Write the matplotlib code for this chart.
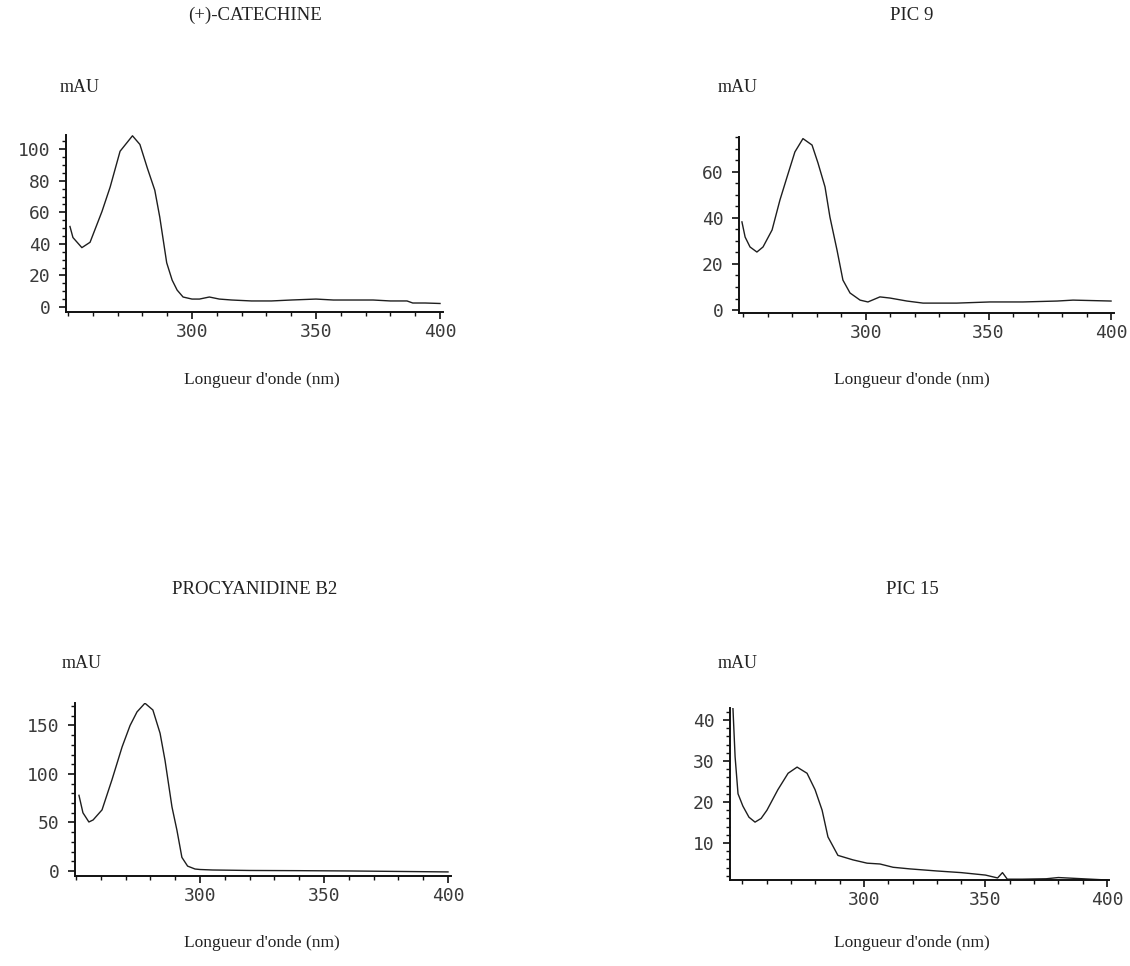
import matplotlib
matplotlib.use("Agg")
import matplotlib.pyplot as plt
from matplotlib.ticker import MultipleLocator

W, H = 1130, 966

# UV spectra (wavelength in nm, absorbance in mAU)
cat_nm = [250.8, 252.0, 255.6, 258.9, 263.7, 267.0, 271.0, 276.0, 279.0, 282.0,
          285.0, 287.0, 289.8, 292.0, 294.0, 296.4, 300.0, 303.0, 307.0, 311.0,
          316.0, 324.0, 332.0, 340.0, 350.0, 357.0, 366.0, 373.0, 380.0, 386.7,
          389.0, 394.0, 400.0]
cat_mau = [51.0, 44.0, 37.6, 41.0, 60.5, 76.0, 98.7, 108.5, 103.0, 88.0,
           74.0, 57.0, 28.0, 17.0, 10.7, 6.3, 5.0, 5.0, 6.3, 5.0,
           4.4, 3.8, 3.8, 4.4, 5.0, 4.4, 4.4, 4.4, 3.8, 3.8,
           2.5, 2.5, 2.2]

pic9_nm = [249.4, 250.7, 252.7, 255.5, 258.0, 261.7, 264.9, 267.8, 271.0, 274.3,
           278.0, 280.4, 283.3, 285.3, 288.2, 290.6, 293.5, 297.6, 300.8, 305.7,
           309.8, 316.7, 323.3, 337.0, 350.6, 364.0, 378.0, 384.5, 400.0]
pic9_mau = [38.3, 31.7, 27.4, 25.2, 27.4, 34.8, 47.8, 57.8, 68.7, 74.5,
            71.7, 64.0, 53.5, 40.4, 26.0, 13.0, 7.4, 4.3, 3.5, 5.7,
            5.2, 3.9, 3.0, 3.0, 3.5, 3.5, 3.9, 4.3, 3.9]

pb2_nm = [251.2, 252.8, 255.2, 256.9, 260.5, 264.5, 268.6, 271.8, 274.6, 277.8,
          281.0, 283.9, 285.9, 288.7, 290.7, 292.7, 295.0, 298.0, 300.0, 305.0,
          320.0, 340.0, 360.0, 380.0, 400.0]
pb2_mau = [78.0, 60.0, 50.5, 52.6, 63.0, 94.0, 128.0, 150.0, 164.0, 173.0,
           166.0, 142.0, 114.0, 66.0, 42.0, 14.0, 5.0, 2.0, 1.5, 1.0,
           0.5, 0.3, 0.0, -0.5, -1.0]

pic15_nm = [245.6, 246.1, 247.0, 248.2, 250.2, 252.7, 255.2, 257.7, 260.1, 264.6,
            268.8, 272.5, 276.6, 279.9, 282.8, 285.2, 289.3, 295.5, 301.3, 306.6,
            312.0, 319.0, 330.0, 340.0, 350.0, 355.0, 357.0, 359.0, 365.0, 375.0,
            380.0, 390.0, 400.0]
pic15_mau = [47.0, 43.0, 31.0, 22.0, 19.0, 16.3, 15.1, 16.0, 18.0, 23.0,
             27.0, 28.5, 27.0, 23.0, 18.0, 11.5, 7.0, 5.9, 5.1, 4.9,
             4.1, 3.7, 3.2, 2.8, 2.2, 1.5, 2.8, 1.2, 1.2, 1.3,
             1.6, 1.3, 1.0]

titles = ["(+)-CATECHINE", "PIC 9", "PROCYANIDINE B2", "PIC 15"]
y_minor = [5, 5, 10, 2]
x_ticks = [300, 350, 400]
x_label = "Longueur d'onde (nm)"
y_label = "mAU"

serif = "Liberation Serif"
mono = "DejaVu Sans Mono"


def rect(left, right, top, bottom):
    return [left / W, 1 - bottom / H, (right - left) / W, (bottom - top) / H]


fig = plt.figure(figsize=(W / 100, H / 100), dpi=100)
fig.patch.set_facecolor("white")

panels = [
    dict(box=(66, 442.5, 135, 312), xlim=(249.2, 401), ylim=(-3.2, 109),
         x=cat_nm, y=cat_mau, title_xy=(255, 15), mau_xy=(60, 88),
         xl_xy=(262, 380), yticks=[0, 20, 40, 60, 80, 100]),
    dict(box=(739, 1113.5, 137, 313), xlim=(248.2, 401), ylim=(-1.3, 75.2),
         x=pic9_nm, y=pic9_mau, title_xy=(912, 15), mau_xy=(718, 88),
         xl_xy=(912, 380), yticks=[0, 20, 40, 60]),
    dict(box=(75, 450.5, 703, 876), xlim=(249.6, 401), ylim=(-5.2, 173.2),
         x=pb2_nm, y=pb2_mau, title_xy=(255, 590), mau_xy=(62, 663),
         xl_xy=(262, 943), yticks=[0, 50, 100, 150]),
    dict(box=(730, 1109.4, 708, 880), xlim=(244.9, 401), ylim=(1.0, 42.9),
         x=pic15_nm, y=pic15_mau, title_xy=(912, 590), mau_xy=(718, 663),
         xl_xy=(912, 943), yticks=[10, 20, 30, 40]),
]

for i, p in enumerate(panels):
    ax = fig.add_axes(rect(*p["box"]))
    ax.plot(p["x"], p["y"], color="#1e1e1e", lw=1.0)
    ax.set_xlim(*p["xlim"])
    ax.set_ylim(*p["ylim"])
    for s in ("top", "right"):
        ax.spines[s].set_visible(False)
    for s in ("left", "bottom"):
        ax.spines[s].set_linewidth(1.4)
        ax.spines[s].set_color("#111111")
    ax.set_xticks(x_ticks)
    ax.xaxis.set_minor_locator(MultipleLocator(10))
    ax.set_yticks(p["yticks"])
    ax.yaxis.set_minor_locator(MultipleLocator(y_minor[i]))
    ax.tick_params(which="major", direction="out", length=5, width=1.2,
                   color="#111111")
    ax.tick_params(which="minor", direction="out", length=3, width=1.0,
                   color="#111111")
    ax.tick_params(axis="y", which="major", pad=6)
    ax.tick_params(axis="x", which="major", pad=3)
    for lab in ax.get_xticklabels() + ax.get_yticklabels():
        lab.set_family(mono)
        lab.set_fontsize(13)
        lab.set_color("#3a3a3a")
    ax.patch.set_alpha(0)

    tx, ty = p["title_xy"]
    fig.text(tx / W, 1 - ty / H, titles[i], family=serif, fontsize=13.5,
             ha="center", va="center", color="#222222")
    mx, my = p["mau_xy"]
    fig.text(mx / W, 1 - my / H, y_label, family=serif, fontsize=13,
             ha="left", va="center", color="#222222")
    lx, ly = p["xl_xy"]
    fig.text(lx / W, 1 - ly / H, x_label, family=serif, fontsize=12.5,
             ha="center", va="center", color="#222222")

fig.savefig("out.png", dpi=100, facecolor="white")
